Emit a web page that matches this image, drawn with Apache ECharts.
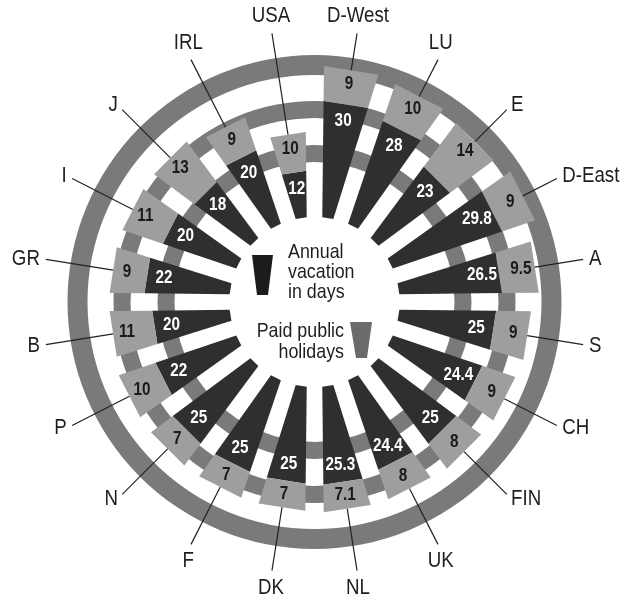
<!DOCTYPE html>
<html><head><meta charset="utf-8">
<script src="https://cdn.jsdelivr.net/npm/echarts@6/dist/echarts.min.js"></script>
<style>html,body{margin:0;padding:0;background:#fff}#c{width:631px;height:598px}</style>
</head><body><div id="c"></div>
<script>
// ---- data ----
const countries = ['D-West','LU','E','D-East','A','S','CH','FIN','UK','NL','DK','F','N','P','B','GR','I','J','IRL','USA'];
const vacation  = [30, 28, 23, 29.8, 26.5, 25, 24.4, 25, 24.4, 25.3, 25, 25, 25, 22, 20, 22, 20, 18, 20, 12];
const holidays  = [9, 10, 14, 9, 9.5, 9, 9, 8, 8, 7.1, 7, 7, 7, 10, 11, 9, 11, 13, 9, 10];
const legendTexts = ['Annual\nvacation\nin days', 'Paid public\nholidays'];

// ---- style ----
const FONT = '"Liberation Sans",Arial,sans-serif';
const NARROW = 0.85;
const DARK = '#2f2f2f', LIGHT = '#9e9e9e', RING = '#7a7a7a', TXT = '#1e1e1e';
const CX = 314.5, CY = 302;
const halfSlot = Math.PI / countries.length;
const alpha = halfSlot - 0.0113;
const halfGap = 6.8;

function halfW(R){ return (R - halfGap*Math.sin(alpha))*Math.tan(alpha) - halfGap*Math.cos(alpha); }
function pt(c,u,R,w){ return [c[0]+u[0]*R - u[1]*w, c[1]+u[1]*R + u[0]*w]; }
function polarInfo(params, api, idx, val){
  const cs = params.coordSys, c = [cs.cx, cs.cy];
  const p = api.coord([val, idx]);
  const R = Math.hypot(p[0]-c[0], p[1]-c[1]);
  return {c, R, u:[(p[0]-c[0])/R, (p[1]-c[1])/R]};
}

function barRenderer(fill, textFill, inset, labels){
  return function(params, api){
    const i = api.value(0), a = api.value(1), b = api.value(2);
    const A = polarInfo(params, api, i, a), B = polarInfo(params, api, i, b);
    const c = B.c, u = B.u, R1 = A.R, R2 = B.R;
    const w1 = halfW(R1), w2 = halfW(R2);
    const pts = [pt(c,u,R1,w1), pt(c,u,R2,w2), pt(c,u,R2,-w2), pt(c,u,R1,-w1)];
    const Rl = Math.max((R1+R2)/2, R2 - inset);
    const lp = pt(c,u,Rl,0);
    return {type:'group', children:[
      {type:'polygon', shape:{points:pts}, style:{fill}},
      {type:'text', x:lp[0], y:lp[1], scaleX:NARROW, style:{text:String(labels[params.dataIndex]), fill:textFill,
        font:'bold 18px '+FONT, align:'center', verticalAlign:'middle'}}
    ]};
  };
}

function labelRenderer(params, api){
  const i = api.value(0), t = api.value(1);
  const B = polarInfo(params, api, i, t);
  const c = B.c, u = B.u;
  const p1 = pt(c,u,B.R,0), p2 = pt(c,u,272,0), pl = pt(c,u,278,0);
  const sx = u[0], sy = u[1];
  const align = sx > 0.5 ? 'left' : (sx < -0.5 ? 'right' : 'center');
  const valign = sy < -0.8 ? 'bottom' : (sy > 0.8 ? 'top' : 'middle');
  return {type:'group', children:[
    {type:'line', shape:{x1:p1[0], y1:p1[1], x2:p2[0], y2:p2[1]}, style:{stroke:'#222', lineWidth:1.2}},
    {type:'text', x:pl[0], y:pl[1], scaleX:NARROW, style:{text:countries[params.dataIndex], fill:TXT,
      font:'22px '+FONT, align, verticalAlign:valign}}
  ]};
}

const ringDefs = [[140,157],[184,201],[227,247]];

const chart = echarts.init(document.getElementById('c'), null, {renderer:'canvas'});
chart.setOption({
  backgroundColor:'#fff',
  animation:false,
  polar:{center:[CX, CY], radius:[85, 246]},
  angleAxis:{type:'category', data:countries, startAngle:90, clockwise:true, show:false},
  radiusAxis:{type:'value', min:0, max:42, show:false},
  graphic:[
    ...ringDefs.map(r => ({type:'ring', z:0, shape:{cx:CX, cy:CY, r0:r[0], r:r[1]}, style:{fill:RING}})),
    {type:'polygon', z:10, shape:{points:[[252,255],[273,255],[268,295],[257,295]]}, style:{fill:'#1c1c1c'}},
    {type:'text', z:10, x:288, y:242, scaleX:NARROW, style:{text:legendTexts[0], fill:TXT, font:'21px '+FONT, lineHeight:20, align:'left', verticalAlign:'top'}},
    {type:'text', z:10, x:344, y:321, scaleX:NARROW, style:{text:legendTexts[1], fill:TXT, font:'21px '+FONT, lineHeight:21, align:'right', verticalAlign:'top'}},
    {type:'polygon', z:10, shape:{points:[[350,322],[372,322],[367,358],[356,358]]}, style:{fill:'#6b6b6b'}}
  ],
  series:[
    {type:'custom', name:'Annual vacation', coordinateSystem:'polar', z:5,
     encode:{angle:0, radius:2},
     data: vacation.map((v,i)=>[i, 0, v]),
     renderItem: barRenderer(DARK, '#ffffff', 17, vacation)},
    {type:'custom', name:'Paid public holidays', coordinateSystem:'polar', z:5,
     encode:{angle:0, radius:2},
     data: holidays.map((h,i)=>[i, vacation[i], vacation[i]+h]),
     renderItem: barRenderer(LIGHT, '#1a1a1a', 14, holidays)},
    {type:'custom', name:'labels', coordinateSystem:'polar', z:6,
     encode:{angle:0, radius:1},
     data: holidays.map((h,i)=>[i, vacation[i]+h]),
     renderItem: labelRenderer}
  ]
});
</script>
</body></html>
